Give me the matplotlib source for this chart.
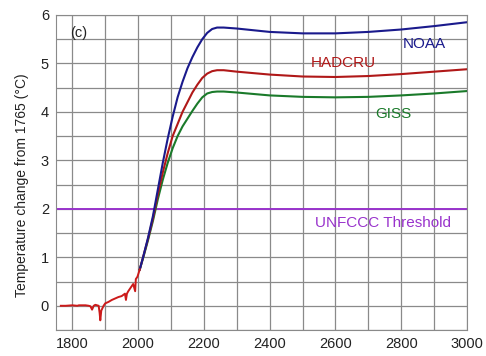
import matplotlib
matplotlib.use("Agg")
import matplotlib.pyplot as plt
import numpy as np

plt.rcParams['font.family'] = ['Liberation Sans', 'DejaVu Sans']

hist_years = [1765, 1780, 1800, 1815, 1820, 1840, 1850, 1855, 1860, 1865, 1870, 1880,
              1883, 1885, 1888, 1895, 1900, 1910, 1920, 1930, 1940, 1950, 1960, 1963,
              1966, 1970, 1980, 1985, 1991, 1993, 1998, 2005]
hist_vals = [0.0, 0.0, 0.01, 0.0, 0.01, 0.01, 0.0, -0.01, -0.08, 0.0, 0.02, 0.0,
             -0.15, -0.3, -0.1, 0.0, 0.05, 0.08, 0.12, 0.15, 0.18, 0.2, 0.25, 0.12,
             0.25, 0.3, 0.4, 0.45, 0.3, 0.55, 0.6, 0.75]

fut_years = [2005, 2015, 2030, 2045, 2060, 2075, 2090, 2105, 2120, 2135, 2150, 2165,
             2180, 2195, 2210, 2225, 2240, 2260, 2300, 2400, 2500, 2600, 2700, 2800,
             2900, 3000]
noaa = [0.75, 1.0, 1.4, 1.85, 2.4, 2.95, 3.45, 3.9, 4.3, 4.62, 4.9, 5.13,
        5.33, 5.5, 5.63, 5.71, 5.74, 5.74, 5.72, 5.65, 5.62, 5.62, 5.65, 5.7,
        5.77, 5.85]
hadcru = [0.75, 1.0, 1.38, 1.8, 2.3, 2.75, 3.15, 3.5, 3.75, 4.0, 4.2, 4.4,
          4.56, 4.7, 4.79, 4.84, 4.86, 4.86, 4.83, 4.77, 4.73, 4.72, 4.74, 4.78,
          4.83, 4.88]
giss = [0.75, 0.98, 1.35, 1.75, 2.2, 2.6, 2.95, 3.25, 3.5, 3.7, 3.86, 4.02,
        4.17, 4.3, 4.38, 4.41, 4.42, 4.42, 4.4, 4.34, 4.31, 4.3, 4.31, 4.34,
        4.38, 4.43]
threshold = 2.0

fig = plt.figure(figsize=(4.86, 3.56), dpi=100)
ax = fig.add_axes([0.115, 0.073, 0.846, 0.885])

ax.set_xlim(1750, 3000)
ax.set_ylim(-0.5, 6)
ax.set_xticks(np.arange(1800, 3001, 200))
ax.set_xticks(np.arange(1800, 3001, 100), minor=True)
ax.set_yticks(np.arange(0, 7, 1))
ax.set_yticks(np.arange(-0.5, 6.01, 0.5), minor=True)
ax.grid(True, which='both', color='#8a8a8a', linewidth=0.9)
ax.set_axisbelow(True)
ax.tick_params(which='both', length=0, labelsize=10.5, colors='#222222', pad=5)
for s in ax.spines.values():
    s.set_color('#8a8a8a')

ax.axhline(threshold, color='#9933cc', linewidth=1.4)

ax.plot(fut_years, giss, color='#1a7a2a', linewidth=1.5)
ax.plot(fut_years, hadcru, color='#b01818', linewidth=1.5)
ax.plot(fut_years, noaa, color='#1a1a8c', linewidth=1.5)
ax.plot(hist_years, hist_vals, color='#cc1a1a', linewidth=1.4)

ax.text(2870, 5.4, 'NOAA', color='#1a1a8c', fontsize=11, ha='center', va='center')
ax.text(2625, 5.0, 'HADCRU', color='#b01818', fontsize=11, ha='center', va='center')
ax.text(2775, 3.95, 'GISS', color='#1a7a2a', fontsize=11, ha='center', va='center')
ax.text(2745, 1.7, 'UNFCCC Threshold', color='#9933cc', fontsize=11, ha='center', va='center')
ax.text(1820, 5.62, '(c)', color='#222222', fontsize=10.5, ha='center', va='center')

fig.text(22 / 486, 1 - 185 / 356, 'Temperature change from 1765 (\u00b0C)', fontsize=10,
         color='#222222', rotation=90, ha='center', va='center')

fig.savefig('out.png', dpi=100)
